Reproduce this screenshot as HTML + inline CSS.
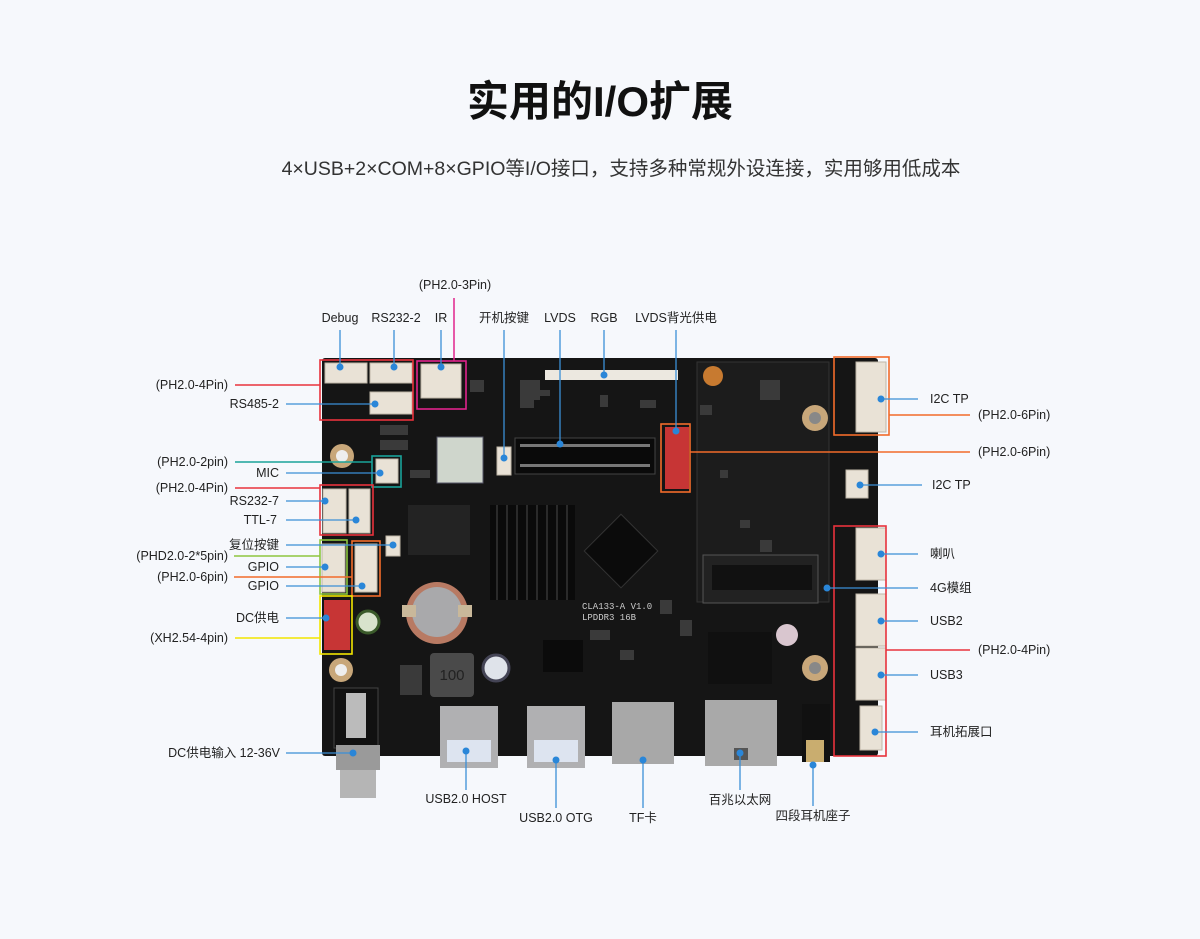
<!DOCTYPE html>
<html><head><meta charset="utf-8"><style>
body{margin:0;background:#f6f8fc;}
svg{display:block}
text{font-family:"Liberation Sans","Noto Sans CJK SC",sans-serif;fill:#222;font-size:12.5px}
.r{text-anchor:end}.m{text-anchor:middle}
</style></head><body>
<svg width="1200" height="939" viewBox="0 0 1200 939" xmlns="http://www.w3.org/2000/svg">
<rect width="1200" height="939" fill="#f6f8fc"/>
<text x="600" y="116" class="m" style="font-size:42px;font-weight:bold;fill:#111">实用的I/O扩展</text>
<text x="621" y="175" class="m" style="font-size:19.5px;fill:#333">4×USB+2×COM+8×GPIO等I/O接口，支持多种常规外设连接，实用够用低成本</text>

<!-- board -->
<rect x="322" y="358" width="556" height="398" rx="3" fill="#151515"/>
<rect x="697" y="362" width="132" height="240" fill="#1c1c1c" stroke="#333"/>
<!-- smd texture -->
<g fill="#3a3a3a">
<rect x="540" y="390" width="10" height="6"/><rect x="520" y="400" width="14" height="8"/><rect x="600" y="395" width="8" height="12"/><rect x="640" y="400" width="16" height="8"/>
<rect x="380" y="425" width="28" height="10"/><rect x="380" y="440" width="28" height="10"/><rect x="410" y="470" width="20" height="8"/>
<rect x="740" y="520" width="10" height="8"/><rect x="760" y="540" width="12" height="12"/><rect x="720" y="470" width="8" height="8"/>
<rect x="590" y="630" width="20" height="10"/><rect x="620" y="650" width="14" height="10"/><rect x="660" y="600" width="12" height="14"/>
<rect x="400" y="665" width="22" height="30"/><rect x="700" y="405" width="12" height="10"/><rect x="760" y="380" width="20" height="20"/>
<rect x="470" y="380" width="14" height="12"/><rect x="520" y="380" width="20" height="20"/><rect x="680" y="620" width="12" height="16"/>
</g>
<!-- DC jack -->
<rect x="334" y="688" width="44" height="60" fill="#111" stroke="#444"/>
<rect x="346" y="693" width="20" height="45" fill="#bbb"/>
<rect x="336" y="745" width="44" height="25" fill="#9a9a9a"/>
<rect x="340" y="770" width="36" height="28" fill="#b5b5b5"/>
<!-- coin cell -->
<circle cx="437" cy="613" r="31" fill="#b87a63"/>
<circle cx="437" cy="612" r="25" fill="#a9a9ab"/>
<rect x="402" y="605" width="14" height="12" fill="#c9b89a"/><rect x="458" y="605" width="14" height="12" fill="#c9b89a"/>
<rect x="430" y="653" width="44" height="44" rx="4" fill="#4a4a4a"/>
<text x="452" y="680" class="m" style="fill:#222;font-size:15px">100</text>
<circle cx="496" cy="668" r="13" fill="#dfe3ea" stroke="#445" stroke-width="3"/>
<circle cx="368" cy="622" r="11" fill="#d8e3cc" stroke="#3a5a2a" stroke-width="3"/>
<circle cx="342" cy="456" r="12" fill="#c8a77a"/><circle cx="342" cy="456" r="6" fill="#eee"/>
<circle cx="341" cy="670" r="12" fill="#c8a77a"/><circle cx="341" cy="670" r="6" fill="#eee"/>
<circle cx="815" cy="418" r="13" fill="#c8a77a"/><circle cx="815" cy="418" r="6" fill="#888"/>
<circle cx="815" cy="668" r="13" fill="#c8a77a"/><circle cx="815" cy="668" r="6" fill="#888"/>
<circle cx="713" cy="376" r="10" fill="#c77a30"/>
<!-- heatsink -->
<rect x="490" y="505" width="85" height="95" fill="#0a0a0a"/>
<g stroke="#2a2a2a" stroke-width="2"><line x1="497" y1="505" x2="497" y2="600"/><line x1="507" y1="505" x2="507" y2="600"/><line x1="517" y1="505" x2="517" y2="600"/><line x1="527" y1="505" x2="527" y2="600"/><line x1="537" y1="505" x2="537" y2="600"/><line x1="547" y1="505" x2="547" y2="600"/><line x1="557" y1="505" x2="557" y2="600"/><line x1="567" y1="505" x2="567" y2="600"/></g>
<rect x="595" y="525" width="52" height="52" fill="#0b0b0b" stroke="#333" transform="rotate(45 621 551)"/>
<rect x="408" y="505" width="62" height="50" fill="#232323"/>
<rect x="543" y="640" width="40" height="32" fill="#0b0b0b"/>
<text x="582" y="609" style="fill:#ccc;font-size:9px;font-family:'Liberation Mono',monospace">CLA133-A V1.0</text>
<text x="582" y="620" style="fill:#ccc;font-size:9px;font-family:'Liberation Mono',monospace">LPDDR3 16B</text>
<!-- LVDS header -->
<rect x="515" y="438" width="140" height="36" fill="#0a0a0a" stroke="#444"/>
<g fill="#777"><rect x="520" y="444" width="130" height="3"/><rect x="520" y="464" width="130" height="3"/></g>
<rect x="545" y="370" width="133" height="10" fill="#ece8e0"/>
<rect x="437" y="437" width="46" height="46" fill="#cfd6cc" stroke="#556"/>
<rect x="703" y="555" width="115" height="48" fill="#222" stroke="#555"/>
<rect x="712" y="565" width="100" height="25" fill="#111"/>
<rect x="708" y="632" width="64" height="52" fill="#101010"/>
<circle cx="787" cy="635" r="11" fill="#d9c6cf"/>
<!-- connectors -->
<g fill="#e9e2d6" stroke="#bfb6a8">
<rect x="325" y="363" width="42" height="20"/><rect x="370" y="363" width="42" height="20"/><rect x="370" y="392" width="42" height="22"/>
<rect x="421" y="364" width="40" height="34"/>
<rect x="376" y="459" width="22" height="24"/>
<rect x="323" y="489" width="23" height="44"/><rect x="349" y="489" width="21" height="44"/>
<rect x="322" y="544" width="23" height="48"/><rect x="355" y="544" width="22" height="48"/>
<rect x="856" y="362" width="30" height="70"/><rect x="846" y="470" width="22" height="28"/>
<rect x="856" y="528" width="30" height="52"/><rect x="856" y="594" width="30" height="52"/><rect x="856" y="648" width="30" height="52"/>
<rect x="860" y="706" width="22" height="44"/>
<rect x="497" y="447" width="14" height="28"/><rect x="386" y="536" width="14" height="20"/>
</g>
<rect x="665" y="427" width="24" height="62" fill="#c73535"/>
<rect x="324" y="600" width="26" height="50" fill="#c73535"/>
<!-- ports -->
<rect x="440" y="706" width="58" height="62" fill="#b0b0b2"/><rect x="447" y="740" width="44" height="22" fill="#dde4f0"/>
<rect x="527" y="706" width="58" height="62" fill="#b0b0b2"/><rect x="534" y="740" width="44" height="22" fill="#dde4f0"/>
<rect x="612" y="702" width="62" height="62" fill="#a8a8a8"/>
<rect x="705" y="700" width="72" height="66" fill="#a9a9a9"/><rect x="734" y="748" width="14" height="12" fill="#555"/>
<rect x="802" y="704" width="28" height="58" fill="#111"/><rect x="806" y="740" width="18" height="22" fill="#c9ad6f"/>

<!-- boxes -->
<g fill="none" stroke-width="1.6">
<rect x="320" y="360" width="93" height="60" stroke="#e8323c"/>
<rect x="417" y="361" width="49" height="48" stroke="#e0248c"/>
<rect x="372" y="456" width="29" height="31" stroke="#1aa39a"/>
<rect x="320" y="485" width="53" height="50" stroke="#e8323c"/>
<rect x="320" y="540" width="27" height="54" stroke="#8dc63f"/>
<rect x="352" y="541" width="28" height="55" stroke="#f26b2a"/>
<rect x="320" y="596" width="32" height="58" stroke="#f2e600"/>
<rect x="661" y="424" width="29" height="68" stroke="#f26b2a"/>
<rect x="834" y="357" width="55" height="78" stroke="#f26b2a"/>
<rect x="834" y="526" width="52" height="230" stroke="#e8323c"/>
</g>
<!-- colored leader lines -->
<g stroke-width="1.5">
<line x1="235" y1="385" x2="320" y2="385" stroke="#e8323c"/>
<line x1="454" y1="298" x2="454" y2="361" stroke="#e0248c"/>
<line x1="235" y1="462" x2="372" y2="462" stroke="#1aa39a"/>
<line x1="235" y1="488" x2="320" y2="488" stroke="#e8323c"/>
<line x1="234" y1="556" x2="320" y2="556" stroke="#8dc63f"/>
<line x1="234" y1="577" x2="352" y2="577" stroke="#f26b2a"/>
<line x1="235" y1="638" x2="320" y2="638" stroke="#f2e600"/>
<line x1="889" y1="415" x2="970" y2="415" stroke="#f26b2a"/>
<line x1="690" y1="452" x2="970" y2="452" stroke="#f26b2a"/>
<line x1="886" y1="650" x2="970" y2="650" stroke="#e8323c"/>
</g>
<!-- blue leaders -->
<g stroke="#3b8fd6" stroke-width="1.3">
<line x1="340" y1="330" x2="340" y2="367"/><line x1="394" y1="330" x2="394" y2="367"/><line x1="441" y1="330" x2="441" y2="367"/>
<line x1="504" y1="330" x2="504" y2="458"/><line x1="560" y1="330" x2="560" y2="444"/><line x1="604" y1="330" x2="604" y2="375"/><line x1="676" y1="330" x2="676" y2="431"/>
<line x1="286" y1="404" x2="375" y2="404"/><line x1="286" y1="473" x2="380" y2="473"/>
<line x1="286" y1="501" x2="325" y2="501"/><line x1="286" y1="520" x2="356" y2="520"/>
<line x1="286" y1="545" x2="393" y2="545"/><line x1="286" y1="567" x2="325" y2="567"/><line x1="286" y1="586" x2="362" y2="586"/>
<line x1="286" y1="618" x2="326" y2="618"/><line x1="286" y1="753" x2="353" y2="753"/>
<line x1="466" y1="751" x2="466" y2="790"/><line x1="556" y1="760" x2="556" y2="808"/><line x1="643" y1="760" x2="643" y2="808"/>
<line x1="740" y1="753" x2="740" y2="790"/><line x1="813" y1="765" x2="813" y2="806"/>
<line x1="881" y1="399" x2="918" y2="399"/><line x1="860" y1="485" x2="922" y2="485"/>
<line x1="881" y1="554" x2="918" y2="554"/><line x1="827" y1="588" x2="918" y2="588"/>
<line x1="881" y1="621" x2="918" y2="621"/><line x1="881" y1="675" x2="918" y2="675"/><line x1="875" y1="732" x2="918" y2="732"/>
</g>
<g fill="#2a86d8">
<circle cx="340" cy="367" r="3.5"/><circle cx="394" cy="367" r="3.5"/><circle cx="441" cy="367" r="3.5"/><circle cx="504" cy="458" r="3.5"/><circle cx="560" cy="444" r="3.5"/><circle cx="604" cy="375" r="3.5"/><circle cx="676" cy="431" r="3.5"/>
<circle cx="375" cy="404" r="3.5"/><circle cx="380" cy="473" r="3.5"/><circle cx="325" cy="501" r="3.5"/><circle cx="356" cy="520" r="3.5"/><circle cx="393" cy="545" r="3.5"/><circle cx="325" cy="567" r="3.5"/><circle cx="362" cy="586" r="3.5"/><circle cx="326" cy="618" r="3.5"/><circle cx="353" cy="753" r="3.5"/>
<circle cx="466" cy="751" r="3.5"/><circle cx="556" cy="760" r="3.5"/><circle cx="643" cy="760" r="3.5"/><circle cx="740" cy="753" r="3.5"/><circle cx="813" cy="765" r="3.5"/>
<circle cx="881" cy="399" r="3.5"/><circle cx="860" cy="485" r="3.5"/><circle cx="881" cy="554" r="3.5"/><circle cx="827" cy="588" r="3.5"/><circle cx="881" cy="621" r="3.5"/><circle cx="881" cy="675" r="3.5"/><circle cx="875" cy="732" r="3.5"/>
</g>
<!-- labels -->
<text x="455" y="289" class="m">(PH2.0-3Pin)</text>
<text x="340" y="322" class="m">Debug</text><text x="396" y="322" class="m">RS232-2</text><text x="441" y="322" class="m">IR</text>
<text x="504" y="322" class="m">开机按键</text><text x="560" y="322" class="m">LVDS</text><text x="604" y="322" class="m">RGB</text><text x="676" y="322" class="m">LVDS背光供电</text>
<text x="228" y="389" class="r">(PH2.0-4Pin)</text><text x="279" y="408" class="r">RS485-2</text>
<text x="228" y="466" class="r">(PH2.0-2pin)</text><text x="279" y="477" class="r">MIC</text>
<text x="228" y="492" class="r">(PH2.0-4Pin)</text><text x="279" y="505" class="r">RS232-7</text><text x="277" y="524" class="r">TTL-7</text>
<text x="279" y="549" class="r">复位按键</text><text x="228" y="560" class="r">(PHD2.0-2*5pin)</text>
<text x="279" y="571" class="r">GPIO</text><text x="228" y="581" class="r">(PH2.0-6pin)</text><text x="279" y="590" class="r">GPIO</text>
<text x="279" y="622" class="r">DC供电</text><text x="228" y="642" class="r">(XH2.54-4pin)</text>
<text x="280" y="757" class="r">DC供电输入 12-36V</text>
<text x="466" y="803" class="m">USB2.0 HOST</text><text x="556" y="822" class="m">USB2.0 OTG</text><text x="643" y="822" class="m">TF卡</text>
<text x="740" y="804" class="m">百兆以太网</text><text x="813" y="820" class="m">四段耳机座子</text>
<text x="930" y="403">I2C TP</text><text x="978" y="419">(PH2.0-6Pin)</text><text x="978" y="456">(PH2.0-6Pin)</text>
<text x="932" y="489">I2C TP</text><text x="930" y="558">喇叭</text><text x="930" y="592">4G模组</text><text x="930" y="625">USB2</text>
<text x="978" y="654">(PH2.0-4Pin)</text><text x="930" y="679">USB3</text><text x="930" y="736">耳机拓展口</text>
</svg>
</body></html>
